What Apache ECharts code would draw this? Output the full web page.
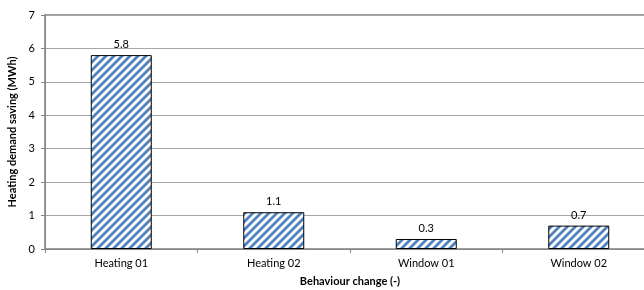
<!DOCTYPE html>
<html>
<head>
<meta charset="utf-8">
<script src="https://cdn.jsdelivr.net/npm/echarts@6/dist/echarts.min.js"></script>
<style>
  html, body { margin: 0; padding: 0; background: #fff; }
  #chart { width: 644px; height: 290px; }
</style>
</head>
<body>
<div id="chart"></div>
<script>
var categories = ['Heating 01', 'Heating 02', 'Window 01', 'Window 02'];
var savings = [5.8, 1.1, 0.3, 0.7];
var yTicks = [0, 1, 2, 3, 4, 5, 6, 7];

// diagonal "/" stripe tile, drawn pixel by pixel so it stays crisp
function stripes() {
    var c = document.createElement('canvas');
    c.width = 8; c.height = 8;
    var ctx = c.getContext('2d');
    ctx.fillStyle = '#fff';
    ctx.fillRect(0, 0, 8, 8);
    for (var x = 0; x < 8; x++) {
        for (var y = 0; y < 8; y++) {
            var d = (x + y) % 8;
            if (d < 3) { ctx.fillStyle = '#4f81bd'; ctx.fillRect(x, y, 1, 1); }
            else if (d === 3 || d === 7) { ctx.fillStyle = '#a9c2e2'; ctx.fillRect(x, y, 1, 1); }
        }
    }
    return c;
}

var myChart = echarts.init(document.getElementById('chart'));
var font = 'Lato';
var option = {
    animation: false,
    grid: {
        left: 45, top: 15, right: -11, bottom: 41,
        outerBoundsMode: 'none',
        containLabel: false,
        show: true, borderColor: '#7f7f7f', borderWidth: 1.5
    },
    xAxis: {
        type: 'category',
        data: categories,
        name: 'Behaviour change (-)',
        nameLocation: 'middle',
        nameGap: 27,
        nameTextStyle: { fontFamily: font, fontSize: 11, fontWeight: 'bold', color: '#000' },
        axisLine: { lineStyle: { color: '#868686' } },
        axisTick: { show: true, length: 4, lineStyle: { color: '#868686' } },
        axisLabel: { fontFamily: font, fontSize: 11, color: '#000', margin: 9 }
    },
    yAxis: {
        type: 'value',
        min: yTicks[0],
        max: yTicks[yTicks.length - 1],
        interval: 1,
        name: 'Heating demand saving (MWh)',
        nameLocation: 'middle',
        nameGap: 23,
        nameTextStyle: { fontFamily: font, fontSize: 11, fontWeight: 'bold', color: '#000' },
        axisLine: { show: true, lineStyle: { color: '#868686' } },
        axisTick: { show: true, length: 4, lineStyle: { color: '#868686' } },
        axisLabel: { fontFamily: font, fontSize: 11, color: '#000', margin: 10 },
        splitLine: { lineStyle: { color: '#a6a6a6' } }
    },
    series: [{
        type: 'bar',
        data: savings,
        barWidth: '40%',
        itemStyle: {
            color: { image: stripes(), repeat: 'repeat' },
            borderColor: '#000',
            borderWidth: 1
        },
        label: {
            show: true,
            position: 'top',
            distance: 5,
            fontFamily: font,
            fontSize: 11,
            color: '#000',
            formatter: function (p) { return p.value.toFixed(1); }
        }
    }]
};
myChart.setOption(option);
</script>
</body>
</html>
